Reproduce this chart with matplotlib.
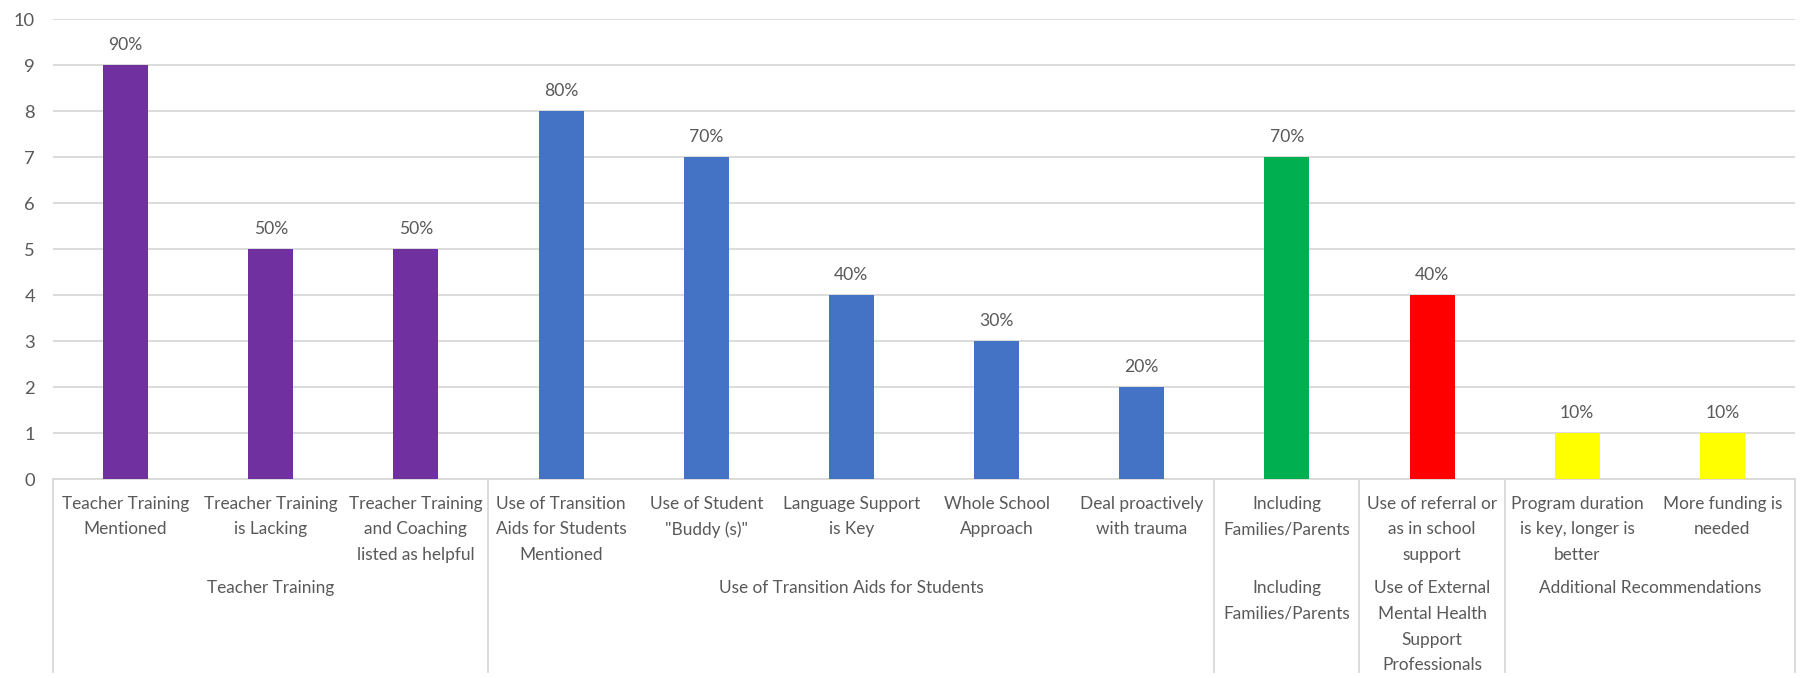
import matplotlib
matplotlib.use("Agg")
import matplotlib.pyplot as plt
from matplotlib.lines import Line2D

plt.rcParams['font.family'] = ['Lato', 'DejaVu Sans']

categories = [
    "Teacher Training\nMentioned",
    "Treacher Training\nis Lacking",
    "Treacher Training\nand Coaching\nlisted as helpful",
    "Use of Transition\nAids for Students\nMentioned",
    "Use of Student\n\"Buddy (s)\"",
    "Language Support\nis Key",
    "Whole School\nApproach",
    "Deal proactively\nwith trauma",
    "Including\nFamilies/Parents",
    "Use of referral or\nas in school\nsupport",
    "Program duration\nis key, longer is\nbetter",
    "More funding is\nneeded",
]
values = [9, 5, 5, 8, 7, 4, 3, 2, 7, 4, 1, 1]
pct_labels = ["90%", "50%", "50%", "80%", "70%", "40%", "30%", "20%", "70%", "40%", "10%", "10%"]
colors = ["#7030A0", "#7030A0", "#7030A0",
          "#4472C4", "#4472C4", "#4472C4", "#4472C4", "#4472C4",
          "#00B050", "#FF0000", "#FFFF00", "#FFFF00"]
groups = [
    ("Teacher Training", 0, 2),
    ("Use of Transition Aids for Students", 3, 7),
    ("Including\nFamilies/Parents", 8, 8),
    ("Use of External\nMental Health\nSupport\nProfessionals", 9, 9),
    ("Additional Recommendations", 10, 11),
]
yticks = list(range(0, 11))

W, H = 1807, 678
fig = plt.figure(figsize=(W / 100, H / 100), dpi=100)
ax_left, ax_right = 53, 1795
ax_top, ax_bottom = 19, 479
ax = fig.add_axes([ax_left / W, 1 - ax_bottom / H, (ax_right - ax_left) / W, (ax_bottom - ax_top) / H])

txt_color = "#595959"
grid_color = "#D9D9D9"
fs = 12.4
ls = 1.75

x = list(range(len(categories)))
bars = ax.bar(x, values, width=0.31, color=colors, zorder=3)
ax.bar_label(bars, labels=pct_labels, padding=9, fontsize=fs + 0.2, color=txt_color)

ax.set_xlim(-0.5, len(categories) - 0.5)
ax.set_ylim(0, 10)
ax.set_yticks(yticks)
ax.yaxis.grid(True, color=grid_color, linewidth=1.3, zorder=0)
ax.set_axisbelow(True)
for s in ["left", "top", "right"]:
    ax.spines[s].set_visible(False)
ax.spines["bottom"].set_color(grid_color)
ax.spines["bottom"].set_linewidth(1.3)
ax.tick_params(axis="y", length=0, pad=13, labelsize=fs + 0.8, labelcolor=txt_color)
ax.set_xticks(x)
ax.set_xticklabels(categories, fontsize=fs, color=txt_color, linespacing=ls, va="top")
ax.tick_params(axis="x", length=0, pad=12)

axh = ax_bottom - ax_top
def yf(py):
    return (ax_bottom - py) / axh

trans = ax.get_xaxis_transform()
for label, a, b in groups:
    ax.text((a + b) / 2, yf(580), label, transform=trans, ha="center", va="top",
            fontsize=fs, color=txt_color, linespacing=ls, clip_on=False)

bounds = [-0.5, 2.5, 7.5, 8.5, 9.5, 11.5]
for bx in bounds:
    ax.add_line(Line2D([bx, bx], [0, yf(672)], transform=trans, color=grid_color,
                       linewidth=1.3, clip_on=False))

fig.savefig("out.png", dpi=100)
